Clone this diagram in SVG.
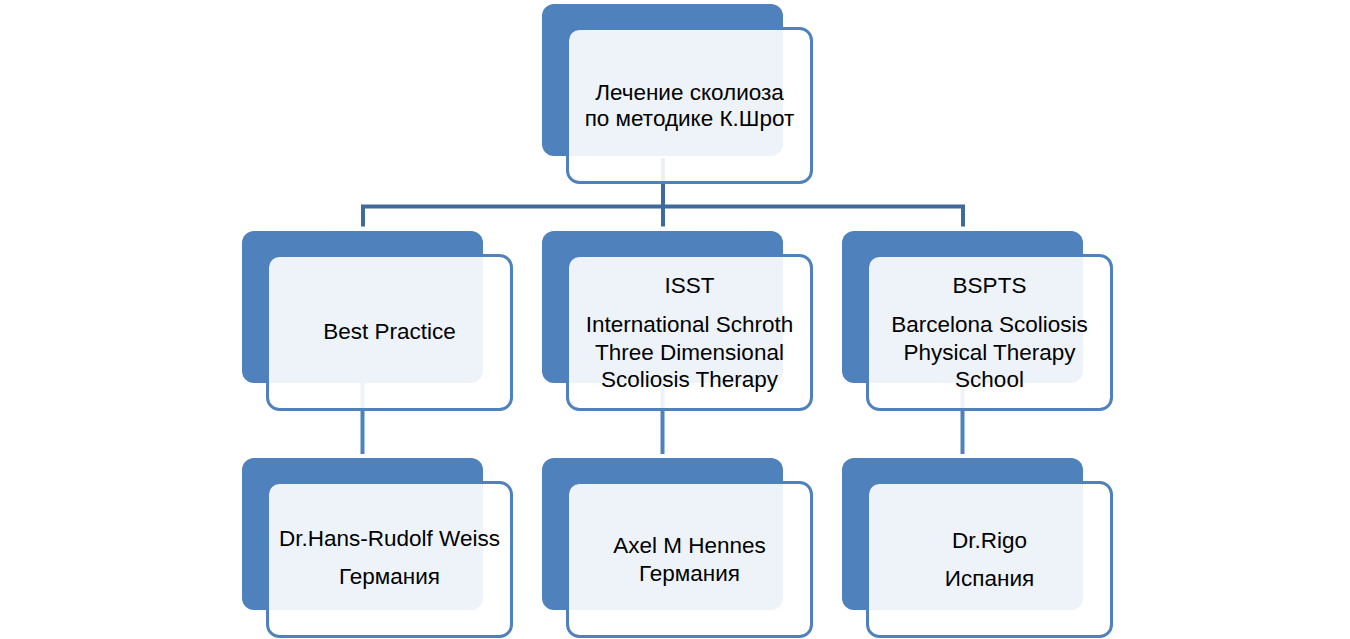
<svg xmlns="http://www.w3.org/2000/svg" width="1350" height="639" viewBox="0 0 1350 639">
<style>
.back{fill:#4F81BD;}
.front{fill:#FFFFFF;fill-opacity:0.9;stroke:#4F81BD;stroke-width:3;}
.c1{stroke:#3F6A9D;stroke-width:4;fill:none;}
.c2{stroke:#4F81BD;stroke-width:4;fill:none;}
text{font-family:"Liberation Sans",Arial,sans-serif;font-size:22.5px;fill:#000;text-anchor:middle;}
</style>
<rect width="1350" height="639" fill="#FFFFFF"/>
<g id="connectors">
<path class="c1" d="M663 158 V206.5 M363 226.5 V206.5 H963 V226.5 M663 206.5 V226.5"/>
<path class="c2" d="M362.5 383 V454 M662.5 383 V454 M962.5 383 V454"/>
</g>
<g id="node-root">
<rect class="back" x="542" y="4" width="241" height="152" rx="12"/>
<rect class="front" x="567.5" y="28.5" width="244" height="154" rx="12"/>
<text x="689.5" y="100">Лечение сколиоза</text>
<text x="689.5" y="126">по методике К.Шрот</text>
</g>
<g id="node-best">
<rect class="back" x="242" y="231" width="241" height="152" rx="12"/>
<rect class="front" x="267.5" y="255.5" width="244" height="154" rx="12"/>
<text x="389.5" y="339">Best Practice</text>
</g>
<g id="node-isst">
<rect class="back" x="542" y="231" width="241" height="152" rx="12"/>
<rect class="front" x="567.5" y="255.5" width="244" height="154" rx="12"/>
<text x="689.5" y="293">ISST</text>
<text x="689.5" y="332">International Schroth</text>
<text x="689.5" y="359.5">Three Dimensional</text>
<text x="689.5" y="387">Scoliosis Therapy</text>
</g>
<g id="node-bspts">
<rect class="back" x="842" y="231" width="241" height="152" rx="12"/>
<rect class="front" x="867.5" y="255.5" width="244" height="154" rx="12"/>
<text x="989.5" y="293">BSPTS</text>
<text x="989.5" y="332">Barcelona Scoliosis</text>
<text x="989.5" y="359.5">Physical Therapy</text>
<text x="989.5" y="387">School</text>
</g>
<g id="node-weiss">
<rect class="back" x="242" y="458" width="241" height="152" rx="12"/>
<rect class="front" x="267.5" y="482.5" width="244" height="154" rx="12"/>
<text x="389.5" y="546">Dr.Hans-Rudolf Weiss</text>
<text x="389.5" y="584">Германия</text>
</g>
<g id="node-hennes">
<rect class="back" x="542" y="458" width="241" height="152" rx="12"/>
<rect class="front" x="567.5" y="482.5" width="244" height="154" rx="12"/>
<text x="689.5" y="553">Axel M Hennes</text>
<text x="689.5" y="581">Германия</text>
</g>
<g id="node-rigo">
<rect class="back" x="842" y="458" width="241" height="152" rx="12"/>
<rect class="front" x="867.5" y="482.5" width="244" height="154" rx="12"/>
<text x="989.5" y="548">Dr.Rigo</text>
<text x="989.5" y="586">Испания</text>
</g>
</svg>
